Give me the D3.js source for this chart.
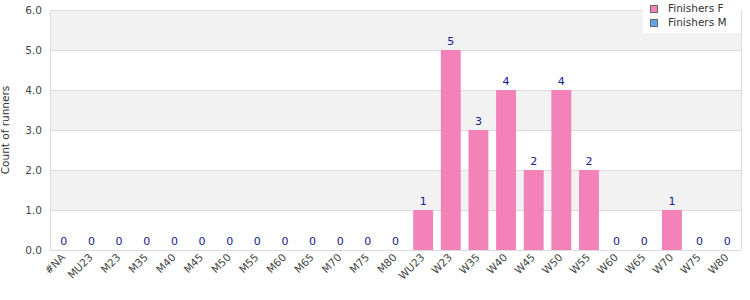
<!DOCTYPE html>
<html><head><meta charset="utf-8">
<script src="https://cdn.jsdelivr.net/npm/d3@7"></script>
<style>body{margin:0;background:#fff}svg{display:block}text{font-family:"DejaVu Sans",Verdana,sans-serif}</style>
</head><body><svg id="c" width="750" height="300"></svg>
<script>
const categories = ["#NA","MU23","M23","M35","M40","M45","M50","M55","M60","M65","M70","M75","M80","WU23","W23","W35","W40","W45","W50","W55","W60","W65","W70","W75","W80"];
const finishersF = [0,0,0,0,0,0,0,0,0,0,0,0,0,1,5,3,4,2,4,2,0,0,1,0,0];
const finishersM = [0,0,0,0,0,0,0,0,0,0,0,0,0,0,0,0,0,0,0,0,0,0,0,0,0];
const yTicks = [0,1,2,3,4,5,6];
const seriesNames = ["Finishers F","Finishers M"];
const seriesColors = ["#f282b8","#5ca8ea"];

const svg = d3.select("#c");
const m = {l:50, r:9, t:10, b:50};
const W = 750, H = 300;
const FS = 10.5;
const x = d3.scaleBand().domain(categories).range([m.l, W-m.r]).paddingInner(0.28).paddingOuter(0.14);
const y = d3.scaleLinear().domain([0,6]).range([H-m.b, m.t]);

const g = svg.append("g");
for (let i=0;i<yTicks.length-1;i++){
  if (i%2===1) g.append("rect").attr("x",m.l).attr("width",W-m.r-m.l)
    .attr("y",y(yTicks[i+1])).attr("height",y(yTicks[i])-y(yTicks[i+1])).attr("fill","#f2f2f2");
}
g.selectAll("line.grid").data(yTicks).join("line").attr("class","grid")
  .attr("x1",m.l).attr("x2",W-m.r).attr("y1",d=>y(d)+0.5).attr("y2",d=>y(d)+0.5)
  .attr("stroke","#dcdcdc");
svg.append("line").attr("x1",m.l+0.5).attr("x2",m.l+0.5).attr("y1",m.t).attr("y2",H-m.b).attr("stroke","#dcdcdc");
svg.append("line").attr("x1",W-m.r+0.5).attr("x2",W-m.r+0.5).attr("y1",m.t).attr("y2",H-m.b).attr("stroke","#dcdcdc");

const data = categories.map((c,i)=>({c, f:finishersF[i], mm:finishersM[i]}));
svg.selectAll("rect.f").data(data).join("rect").attr("class","f")
  .attr("x",d=>x(d.c)).attr("width",x.bandwidth())
  .attr("y",d=>y(d.f)).attr("height",d=>y(0)-y(d.f)).attr("fill",seriesColors[0]);
svg.selectAll("rect.m").data(data).join("rect").attr("class","m")
  .attr("x",d=>x(d.c)).attr("width",x.bandwidth())
  .attr("y",d=>y(d.f+d.mm)).attr("height",d=>y(d.f)-y(d.f+d.mm)).attr("fill",seriesColors[1]);

svg.selectAll("text.lbl").data(data).join("text").attr("class","lbl")
  .attr("x",d=>x(d.c)+x.bandwidth()/2).attr("y",d=>y(d.f+d.mm)-5)
  .attr("text-anchor","middle").attr("font-size",11).attr("fill","#1a1a8c")
  .text(d=>d.f+d.mm);

svg.selectAll("text.yt").data(yTicks).join("text").attr("class","yt")
  .attr("x",m.l-8).attr("y",d=>y(d)+4).attr("text-anchor","end")
  .attr("font-size",FS).attr("fill","#444").text(d=>d.toFixed(1));
svg.append("text").attr("transform",`translate(9,${(m.t+H-m.b)/2}) rotate(-90)`)
  .attr("text-anchor","middle").attr("font-size",FS).attr("fill","#333").text("Count of runners");

svg.selectAll("text.xt").data(categories).join("text").attr("class","xt")
  .attr("transform",d=>`translate(${x(d)+x.bandwidth()/2+2},${H-m.b+8}) rotate(-45)`)
  .attr("text-anchor","end").attr("font-size",FS).attr("fill","#444").text(d=>d);

const lg = svg.append("g");
lg.append("rect").attr("x",643).attr("y",0).attr("width",98).attr("height",33).attr("fill","#fff");
seriesNames.forEach((s,i)=>{
  lg.append("rect").attr("x",650.5).attr("y",5.5+i*14).attr("width",7).attr("height",7)
    .attr("fill",seriesColors[i]).attr("stroke","#666");
  lg.append("text").attr("x",668).attr("y",12+i*14).attr("font-size",FS).attr("fill","#333").text(s);
});
</script></body></html>
